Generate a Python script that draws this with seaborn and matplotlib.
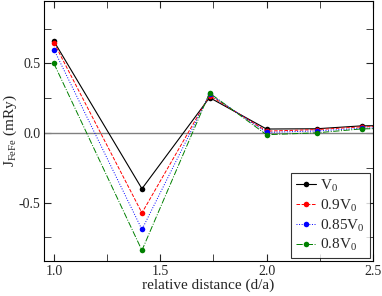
import numpy as np
import pandas as pd
import matplotlib
matplotlib.use('Agg')
import matplotlib.pyplot as plt
import seaborn as sns
from matplotlib.ticker import MultipleLocator

sns.set_style('ticks')
plt.rcParams['font.family'] = ['Liberation Serif', 'DejaVu Serif']
plt.rcParams['mathtext.fontset'] = 'custom'
plt.rcParams['mathtext.rm'] = 'Liberation Serif'
plt.rcParams['mathtext.it'] = 'Liberation Serif'

# 数据 (相对距离 d/a, 交换积分 mRy)
distance = [1.0, 1.414, 1.732, 2.0, 2.236, 2.449, 2.646]
j_v0 = [0.66, -0.40, 0.255, 0.029, 0.031, 0.052, 0.055]
j_090 = [0.65, -0.574, 0.27, 0.014, 0.025, 0.045, 0.05]
j_085 = [0.60, -0.693, 0.28, 0.005, 0.015, 0.035, 0.04]
j_080 = [0.50, -0.843, 0.288, -0.012, 0.002, 0.03, 0.035]

labels = ['V$_0$', '0.9V$_0$', '0.85V$_0$', '0.8V$_0$']
colors = ['black', 'red', 'blue', 'green']
dashes = ['-', '--', ':', '-.']

df = pd.DataFrame({
    'd': distance * 4,
    'J': j_v0 + j_090 + j_085 + j_080,
    'vol': np.repeat(labels, len(distance)),
})

fig = plt.figure(figsize=(3.82, 2.96), dpi=100)
ax = fig.add_axes([0.115, 0.118, 0.861, 0.879])

ax.axhline(0, color='gray', lw=1.0, zorder=1)
for lab, c, ls in zip(labels, colors, dashes):
    sub = df[df['vol'] == lab]
    sns.lineplot(data=sub, x='d', y='J', ax=ax, color=c, linestyle=ls,
                 lw=0.8 if ls == '-' else 0.7, marker='o', markersize=4,
                 markeredgewidth=0, label=lab, zorder=3)

ax.set_xlim(0.953, 2.5)
ax.set_ylim(-0.92, 0.95)
ax.xaxis.set_major_locator(MultipleLocator(0.5))
ax.xaxis.set_minor_locator(MultipleLocator(0.25))
ax.yaxis.set_major_locator(MultipleLocator(0.5))
ax.yaxis.set_minor_locator(MultipleLocator(0.25))
ax.tick_params(which='both', direction='in', top=True, right=True, labelsize=10)
ax.tick_params(which='major', length=5, pad=2.5)
ax.tick_params(which='minor', length=5)
ax.xaxis.set_major_formatter(matplotlib.ticker.FormatStrFormatter('%.1f'))
ax.yaxis.set_major_formatter(matplotlib.ticker.FormatStrFormatter('%.1f'))
for s in ax.spines.values():
    s.set_linewidth(0.8)
    s.set_color('black')

ax.set_xlabel('relative distance (d/a)', fontsize=11, labelpad=1)
ax.set_ylabel('J$_{\\rm FeFe}$ (mRy)', fontsize=11, labelpad=0)

leg = ax.legend(loc='lower right', fontsize=11, frameon=True, fancybox=False,
                edgecolor='black', handlelength=1.3, handletextpad=0.3,
                borderpad=0.3, labelspacing=0.25, borderaxespad=0.2)
leg.get_frame().set_linewidth(0.8)

fig.savefig('out.png', dpi=100)
